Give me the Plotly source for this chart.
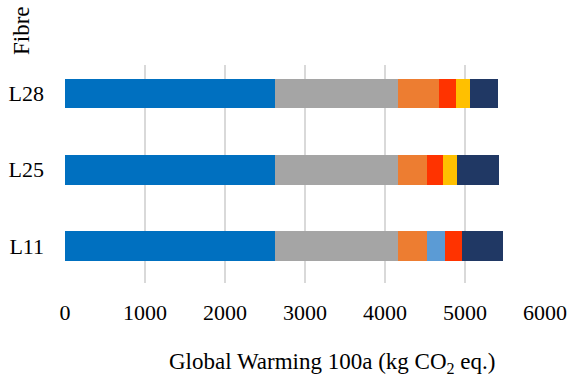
import plotly.graph_objects as go

categories = ["L11", "L25", "L28"]
series_names = ["S1", "S2", "S3", "S4", "S5", "S6", "S7"]
series_values = [
    [2625, 2625, 2625],   # blue
    [1534, 1534, 1534],   # gray
    [362, 366, 516],      # orange
    [225, 0, 0],          # light blue
    [212, 200, 213],      # red
    [0, 179, 170],        # yellow
    [517, 525, 350],      # navy
]
colors = ["#0070C0", "#A5A5A5", "#ED7D31", "#5B9BD5", "#FF3300", "#FFC000", "#203864"]
x_ticks = [0, 1000, 2000, 3000, 4000, 5000, 6000]

FONT = "Liberation Serif"
FS = 22
W, H = 572, 378
L, R, T, B = 65, 27, 65, 95
pw, ph = W - L - R, H - T - B


def px(x):
    return (x - L) / pw


def py(y):
    return (H - B - y) / ph


fig = go.Figure()
for name, vals, c in zip(series_names, series_values, colors):
    fig.add_trace(go.Bar(
        y=categories, x=vals, name=name, orientation="h",
        marker=dict(color=c, line=dict(width=0)), width=0.39,
    ))

fig.update_layout(
    barmode="stack",
    width=W, height=H,
    margin=dict(l=L, r=R, t=T, b=B, autoexpand=False),
    paper_bgcolor="white", plot_bgcolor="white",
    showlegend=False,
    font=dict(family=FONT, size=FS, color="#000000"),
    xaxis=dict(
        range=[0, 6000], tickvals=x_ticks, ticktext=[str(v) for v in x_ticks],
        showgrid=True, gridcolor="#D9D9D9", gridwidth=2,
        zeroline=False, showline=False, ticks="", ticklabelstandoff=14,
        tickfont=dict(family=FONT, size=FS), automargin=False,
    ),
    yaxis=dict(
        range=[-0.485, 2.374], showgrid=False, zeroline=False, showline=False,
        ticks="", ticklabelstandoff=20, tickfont=dict(family=FONT, size=FS),
        automargin=False,
    ),
    annotations=[
        dict(text="Fibre", textangle=-90, x=px(21), y=py(31), xref="paper", yref="paper",
             xanchor="center", yanchor="middle", showarrow=False,
             font=dict(family=FONT, size=23)),
        dict(text="Global Warming 100a (kg CO<sub>2</sub> eq.)", x=px(332), y=py(363),
             xref="paper", yref="paper", xanchor="center", yanchor="middle",
             showarrow=False, font=dict(family=FONT, size=23)),
    ],
)

fig.write_html("out.html", config={"displayModeBar": False},
               post_script="document.body.style.margin='0';")
